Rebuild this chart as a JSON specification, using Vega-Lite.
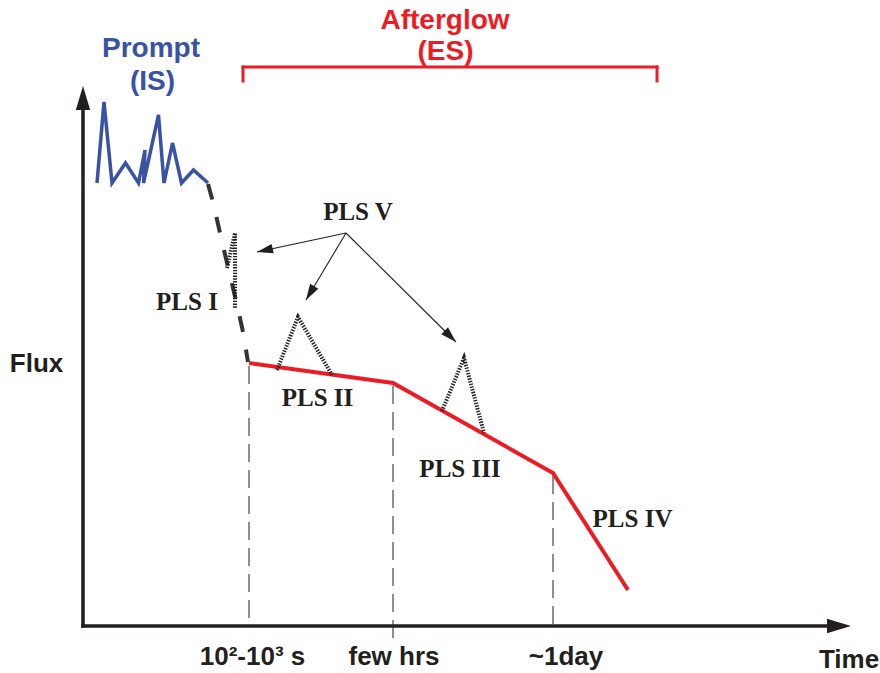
{
  "$schema": "https://vega.github.io/schema/vega-lite/v6.json",
  "width": 880,
  "height": 673,
  "padding": 0,
  "autosize": {"type": "fit", "contains": "padding"},
  "background": "white",
  "config": {"view": {"stroke": null}},
  "datasets": {
    "axes": [
      {"x": 83, "y": 626, "x2": 83, "y2": 108},
      {"x": 83, "y": 626, "x2": 828, "y2": 626}
    ],
    "yArrow": [{"x": 83, "y": 86}],
    "xArrow": [{"x": 851, "y": 626}],
    "prompt": [
      {"o": 1, "x": 97, "y": 183},
      {"o": 2, "x": 104, "y": 102},
      {"o": 3, "x": 112, "y": 183},
      {"o": 4, "x": 125.5, "y": 163},
      {"o": 5, "x": 138.5, "y": 183},
      {"o": 6, "x": 145, "y": 150},
      {"o": 7, "x": 143.5, "y": 183},
      {"o": 8, "x": 158.5, "y": 115},
      {"o": 9, "x": 164, "y": 183},
      {"o": 10, "x": 172.5, "y": 143},
      {"o": 11, "x": 181.5, "y": 183},
      {"o": 12, "x": 193.5, "y": 170},
      {"o": 13, "x": 208, "y": 183}
    ],
    "decay": [
      {"o": 1, "x": 208, "y": 184},
      {"o": 2, "x": 213, "y": 202},
      {"o": 3, "x": 218, "y": 224},
      {"o": 4, "x": 223, "y": 246},
      {"o": 5, "x": 228, "y": 267},
      {"o": 6, "x": 233, "y": 288},
      {"o": 7, "x": 238, "y": 309},
      {"o": 8, "x": 243, "y": 332},
      {"o": 9, "x": 248, "y": 362}
    ],
    "flares": [
      {"g": "I", "o": 1, "x": 227, "y": 268},
      {"g": "I", "o": 2, "x": 235, "y": 233},
      {"g": "I", "o": 3, "x": 235, "y": 308},
      {"g": "II", "o": 1, "x": 277, "y": 370},
      {"g": "II", "o": 2, "x": 298, "y": 317},
      {"g": "II", "o": 3, "x": 332, "y": 375},
      {"g": "III", "o": 1, "x": 442, "y": 411},
      {"g": "III", "o": 2, "x": 464, "y": 358},
      {"g": "III", "o": 3, "x": 484, "y": 433}
    ],
    "afterglow": [
      {"o": 1, "x": 249, "y": 363},
      {"o": 2, "x": 393, "y": 383},
      {"o": 3, "x": 553, "y": 473},
      {"o": 4, "x": 628, "y": 590}
    ],
    "breaks": [
      {"x": 249, "y": 366, "y2": 626},
      {"x": 393, "y": 386, "y2": 638},
      {"x": 553, "y": 476, "y2": 626}
    ],
    "bracket": [
      {"x": 243, "y": 67, "x2": 657, "y2": 67},
      {"x": 243, "y": 67, "x2": 243, "y2": 81},
      {"x": 657, "y": 67, "x2": 657, "y2": 81}
    ],
    "pointers": [
      {"x": 346, "y": 233, "x2": 257, "y2": 252},
      {"x": 346, "y": 233, "x2": 306, "y2": 300},
      {"x": 346, "y": 233, "x2": 456, "y2": 342}
    ],
    "tip1": [{"x": 257, "y": 252}],
    "tip2": [{"x": 306, "y": 300}],
    "tip3": [{"x": 456, "y": 342}],
    "promptLabel": [
      {"x": 151, "y": 57, "t": "Prompt"},
      {"x": 152.5, "y": 90, "t": "(IS)"}
    ],
    "afterLabel": [
      {"x": 445, "y": 28.5, "t": "Afterglow"},
      {"x": 445.5, "y": 60, "t": "(ES)"}
    ],
    "axisTitles": [
      {"x": 36.5, "y": 372, "t": "Flux"},
      {"x": 849, "y": 668, "t": "Time"}
    ],
    "ticks": [
      {"x": 252.5, "y": 665, "t": "10²-10³ s"},
      {"x": 394, "y": 665, "t": "few hrs"},
      {"x": 566, "y": 665, "t": "~1day"}
    ],
    "pls": [
      {"x": 358, "y": 220, "t": "PLS V"},
      {"x": 187, "y": 310, "t": "PLS I"},
      {"x": 317.5, "y": 406, "t": "PLS II"},
      {"x": 460, "y": 477, "t": "PLS III"},
      {"x": 632.5, "y": 527, "t": "PLS IV"}
    ]
  },
  "encoding": {
    "x": {"field": "x", "type": "quantitative", "axis": null, "scale": {"domain": [0, 880], "nice": false, "zero": false}},
    "y": {"field": "y", "type": "quantitative", "axis": null, "scale": {"domain": [0, 673], "nice": false, "zero": false, "reverse": true}}
  },
  "layer": [
    {
      "data": {"name": "breaks"},
      "mark": {"type": "rule", "color": "#444444", "strokeWidth": 1.2, "strokeDash": [18, 8]},
      "encoding": {"y2": {"field": "y2"}}
    },
    {
      "data": {"name": "axes"},
      "mark": {"type": "rule", "color": "#231f20", "strokeWidth": 3.5, "strokeCap": "square"},
      "encoding": {"x2": {"field": "x2"}, "y2": {"field": "y2"}}
    },
    {
      "data": {"name": "yArrow"},
      "mark": {"type": "point", "shape": "M0,0L0.3,1L-0.3,1Z", "size": 2304, "filled": true, "color": "#231f20", "opacity": 1, "strokeWidth": 0, "angle": 0}
    },
    {
      "data": {"name": "xArrow"},
      "mark": {"type": "point", "shape": "M0,0L0.3,1L-0.3,1Z", "size": 2304, "filled": true, "color": "#231f20", "opacity": 1, "strokeWidth": 0, "angle": 90}
    },
    {
      "data": {"name": "prompt"},
      "mark": {"type": "line", "color": "#3953a4", "strokeWidth": 3.5, "strokeJoin": "miter"},
      "encoding": {"order": {"field": "o"}}
    },
    {
      "data": {"name": "decay"},
      "mark": {"type": "line", "color": "#333333", "strokeWidth": 4, "strokeDash": [16, 18]},
      "encoding": {"order": {"field": "o"}}
    },
    {
      "data": {"name": "afterglow"},
      "mark": {"type": "line", "color": "#ed1c24", "strokeWidth": 4},
      "encoding": {"order": {"field": "o"}}
    },
    {
      "data": {"name": "flares"},
      "mark": {"type": "line", "color": "#231f20", "strokeWidth": 4, "strokeDash": [1.4, 1.4]},
      "encoding": {"order": {"field": "o"}, "detail": {"field": "g"}}
    },
    {
      "data": {"name": "bracket"},
      "mark": {"type": "rule", "color": "#ed1c24", "strokeWidth": 3, "strokeCap": "square"},
      "encoding": {"x2": {"field": "x2"}, "y2": {"field": "y2"}}
    },
    {
      "data": {"name": "pointers"},
      "mark": {"type": "rule", "color": "#231f20", "strokeWidth": 1.1},
      "encoding": {"x2": {"field": "x2"}, "y2": {"field": "y2"}}
    },
    {
      "data": {"name": "tip1"},
      "mark": {"type": "point", "shape": "M0,0L0.3,1L-0.3,1Z", "size": 1024, "filled": true, "color": "#231f20", "opacity": 1, "strokeWidth": 0, "angle": 257.6}
    },
    {
      "data": {"name": "tip2"},
      "mark": {"type": "point", "shape": "M0,0L0.3,1L-0.3,1Z", "size": 1024, "filled": true, "color": "#231f20", "opacity": 1, "strokeWidth": 0, "angle": 210.9}
    },
    {
      "data": {"name": "tip3"},
      "mark": {"type": "point", "shape": "M0,0L0.3,1L-0.3,1Z", "size": 1024, "filled": true, "color": "#231f20", "opacity": 1, "strokeWidth": 0, "angle": 134.7}
    },
    {
      "data": {"name": "promptLabel"},
      "mark": {"type": "text", "font": "Liberation Sans", "fontWeight": "bold", "fontSize": 28, "color": "#3953a4", "align": "center", "baseline": "alphabetic"},
      "encoding": {"text": {"field": "t"}}
    },
    {
      "data": {"name": "afterLabel"},
      "mark": {"type": "text", "font": "Liberation Sans", "fontWeight": "bold", "fontSize": 28, "color": "#ed1c24", "align": "center", "baseline": "alphabetic"},
      "encoding": {"text": {"field": "t"}}
    },
    {
      "data": {"name": "axisTitles"},
      "mark": {"type": "text", "font": "Liberation Sans", "fontWeight": "bold", "fontSize": 26, "color": "#231f20", "align": "center", "baseline": "alphabetic"},
      "encoding": {"text": {"field": "t"}}
    },
    {
      "data": {"name": "ticks"},
      "mark": {"type": "text", "font": "Liberation Sans", "fontWeight": "bold", "fontSize": 26, "color": "#231f20", "align": "center", "baseline": "alphabetic"},
      "encoding": {"text": {"field": "t"}}
    },
    {
      "data": {"name": "pls"},
      "mark": {"type": "text", "font": "Liberation Serif", "fontWeight": "bold", "fontSize": 25, "color": "#231f20", "align": "center", "baseline": "alphabetic"},
      "encoding": {"text": {"field": "t"}}
    }
  ]
}
